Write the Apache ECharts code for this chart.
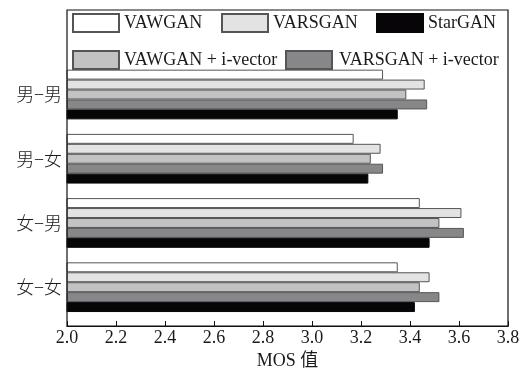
<!DOCTYPE html>
<html><head><meta charset="utf-8">
<script src="https://cdn.jsdelivr.net/npm/echarts@6/dist/echarts.min.js"></script>
<style>html,body{margin:0;padding:0;background:#fff;}#c{width:523px;height:376px;}</style>
</head><body><div id="c"></div>
<script>
const categories = ['男−男', '男−女', '女−男', '女−女'];
const seriesNames = ['VAWGAN', 'VARSGAN', 'VAWGAN + i-vector', 'VARSGAN + i-vector', 'StarGAN'];
const vawgan = [3.29, 3.17, 3.44, 3.35];
const varsgan = [3.46, 3.28, 3.61, 3.48];
const vawganIv = [3.385, 3.24, 3.52, 3.44];
const varsganIv = [3.47, 3.29, 3.62, 3.52];
const stargan = [3.35, 3.23, 3.48, 3.42];
const xTicks = [2.0, 2.2, 2.4, 2.6, 2.8, 3.0, 3.2, 3.4, 3.6, 3.8];

const values = [vawgan, varsgan, vawganIv, varsganIv, stargan];
const fills = ['#ffffff', '#e3e3e3', '#c2c2c3', '#87878a', '#070508'];
const borders = ['#555555', '#555555', '#555555', '#555555', '#070508'];

const serif = '"Liberation Serif", "DejaVu Serif", serif';
const chart = echarts.init(document.getElementById('c'), null, {renderer: 'canvas'});

const legendPos = [
  {name: 'VAWGAN', left: 72, top: 13},
  {name: 'VARSGAN', left: 221, top: 13},
  {name: 'StarGAN', left: 376, top: 13},
  {name: 'VAWGAN + i-vector', left: 72, top: 50},
  {name: 'VARSGAN + i-vector', left: 285, top: 50, pad: 2}
];

chart.setOption({
  animation: false,
  backgroundColor: '#fff',
  grid: [
    {left: 67, right: 15, top: 10, bottom: 50, show: true, borderColor: '#111', borderWidth: 1.2, backgroundColor: 'transparent', z: 10},
    {left: 67, right: 15, top: 62.4, bottom: 56.7}
  ],
  legend: legendPos.map(p => ({
    data: [{name: p.name, icon: 'rect'}], left: p.left, top: p.top, padding: 0,
    itemWidth: 46, itemHeight: 18, orient: 'horizontal',
    selectedMode: false,
    textStyle: {fontFamily: serif, fontSize: 18, color: '#1a1a1a', padding: [0, 0, 0, p.pad || 0]}
  })),
  xAxis: [
    {gridIndex: 0, type: 'value', min: 2, max: 3.8, interval: 0.2,
     axisLine: {show: true, lineStyle: {color: '#111', width: 1.2}},
     axisTick: {show: true, inside: true, length: 5, lineStyle: {color: '#111'}},
     splitLine: {show: false},
     axisLabel: {margin: 3, fontFamily: serif, fontSize: 18, color: '#1a1a1a', formatter: v => xTicks.includes(Math.round(v*10)/10) ? v.toFixed(1) : ''},
     name: 'MOS 值', nameLocation: 'middle', nameGap: 25,
     nameTextStyle: {fontFamily: '"Liberation Serif", "Noto Sans CJK SC", serif', fontSize: 18, color: '#1a1a1a'}},
    {gridIndex: 1, type: 'value', min: 2, max: 3.8, interval: 0.2, show: false}
  ],
  yAxis: [
    {gridIndex: 0, type: 'value', min: 0, max: 1, show: false},
    {gridIndex: 1, type: 'category', data: categories, inverse: true,
     axisLine: {show: false},
     axisTick: {show: true, inside: true, alignWithLabel: true, length: 5, lineStyle: {color: '#111'}},
     axisLabel: {margin: 5, fontFamily: '"Noto Sans CJK SC", sans-serif', fontSize: 18, fontWeight: 300, color: '#1a1a1a'}}
  ],
  series: seriesNames.map((n, i) => ({
    name: n, type: 'bar', xAxisIndex: 1, yAxisIndex: 1,
    data: values[i],
    barGap: '0%', barCategoryGap: '22.6%',
    itemStyle: {color: fills[i], borderColor: borders[i], borderWidth: 1},
    emphasis: {disabled: true}
  }))
});
</script></body></html>
